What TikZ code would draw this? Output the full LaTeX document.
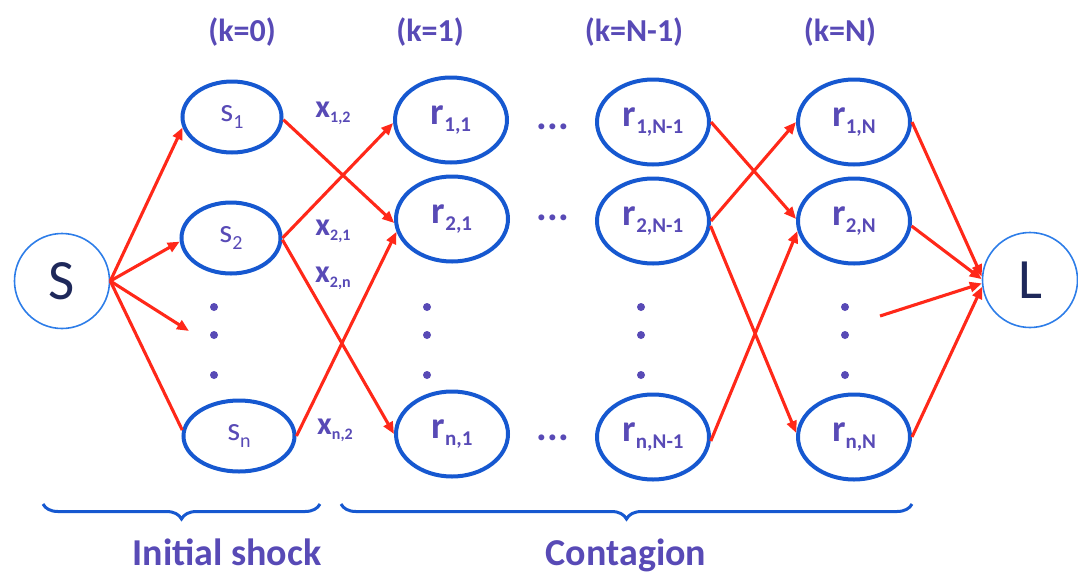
\documentclass[tikz,border=0pt]{standalone}
\usepackage{fontspec}
\setmainfont{Carlito}
\usetikzlibrary{shapes.geometric,arrows.meta,decorations.pathreplacing}
\definecolor{nodeblue}{RGB}{22,88,208}
\definecolor{ringblue}{RGB}{45,125,232}
\definecolor{txtpurple}{RGB}{88,74,182}
\definecolor{navy}{RGB}{30,40,90}
\definecolor{arrowred}{RGB}{255,40,25}
\newcommand{\slab}[1]{s\raisebox{-7pt}{\fontsize{20}{22}\selectfont #1}}
\newcommand{\rlab}[1]{r\raisebox{-7pt}{\fontsize{21}{23}\selectfont #1}}
\newcommand{\xlab}[1]{x\raisebox{-5pt}{\fontsize{16}{18}\selectfont #1}}
\tikzset{
 snode/.style={ellipse,draw=nodeblue,line width=4pt,minimum width=99pt,minimum height=71pt,
   inner sep=0pt,text=txtpurple,font=\fontsize{33}{35}\selectfont},
 rnode/.style={ellipse,draw=nodeblue,line width=4pt,minimum width=112pt,minimum height=85pt,
   inner sep=0pt,text=txtpurple,font=\fontsize{38}{40}\selectfont\bfseries},
 ring/.style={circle,draw=ringblue,line width=1.6pt,minimum size=95pt,
   text=navy,font=\fontsize{57}{60}\selectfont},
 head/.style={text=txtpurple,font=\fontsize{32}{34}\selectfont\bfseries},
 weight/.style={text=txtpurple,font=\fontsize{32}{34}\selectfont\bfseries},
 part/.style={text=txtpurple,font=\fontsize{38}{40}\selectfont\bfseries,anchor=base},
 wire/.style={draw=arrowred,line width=3.1pt},
 link/.style={wire,-{Triangle[length=12pt,width=10pt]}},
 brc/.style={draw=nodeblue,line width=3pt,decorate,decoration={brace,amplitude=15pt,mirror}},
}

\begin{document}
\begin{tikzpicture}[x=1pt,y=-1pt]
        \useasboundingbox (0,0) rectangle (1078,574);

        % source and loss
        \node[ring] (S) at (62,281) {S};
        \node[ring] (L) at (1030,280) {L};

        % column headers
        \node[head] (h0) at (242,32) {(k=0)};
        \node[head] (h1) at (430,32) {(k=1)};
        \node[head] (hM) at (634,32) {(k=N-1)};
        \node[head] (hN) at (840,32) {(k=N)};

        % initial shock column
        \node[snode] (s1) at (232,117) {\slab{1}};
        \node[snode] (s2) at (231,238) {\slab{2}};
        \node[snode,minimum width=111pt] (sn) at (239,436) {\slab{n}};

        % contagion columns
        \node[rnode] (r11) at (451,120) {\rlab{1,1}};
        \node[rnode] (r21) at (452,219) {\rlab{2,1}};
        \node[rnode] (rn1) at (452,434) {\rlab{n,1}};

        \node[rnode] (r1M) at (653,122) {\rlab{1,N-1}};
        \node[rnode] (r2M) at (653,221) {\rlab{2,N-1}};
        \node[rnode] (rnM) at (653,437) {\rlab{n,N-1}};

        \node[rnode] (r1N) at (854,122) {\rlab{1,N}};
        \node[rnode] (r2N) at (854,221) {\rlab{2,N}};
        \node[rnode] (rnN) at (854,437) {\rlab{n,N}};

        % dots
        \node[head,font=\fontsize{40}{42}\selectfont\bfseries] (d1) at (553,127) {...};
        \node[head,font=\fontsize{40}{42}\selectfont\bfseries] (d2) at (553,218) {...};
        \node[head,font=\fontsize{40}{42}\selectfont\bfseries] (dn) at (553,438) {...};
        \foreach \cx in {214,427,641,845}
            \foreach \cy in {307,335,375}
                \fill[txtpurple] (\cx,\cy) circle (4pt);
        \coordinate (sdots) at (189,331);
        \coordinate (Ndots) at (880,316);

        % link weights
        \node[weight] (x12) at (333,113) {\xlab{1,2}};
        \node[weight] (x21) at (333,231) {\xlab{2,1}};
        \node[weight] (x2n) at (333,278) {\xlab{2,n}};
        \node[weight] (xn2) at (335,430) {\xlab{n,2}};

        % shock arrows
        \draw[link] (S.east) -- (s1.192);
        \draw[link] (S.east) -- (s2.184);
        \draw[link] (S.east) -- (sdots);
        \draw[wire] (S.east) -- (sn.174);

        \draw[link] (s1.-3) -- (r21.184);
        \draw[link] (s2.east) -- (r11.183);
        \draw[link] (s2.-2) -- (rn1.west);
        \draw[link] (sn.east) -- (r21.193);

        \draw[link] (r1M.east) -- (r2N.178);
        \draw[link] (r2M.east) -- (r1N.west);
        \draw[link] (r2M.-5) -- (rnN.176);
        \draw[link] (rnM.-4) -- (r2N.190);

        \draw[link] (r1N.east) -- (L.176);
        \draw[link] (r2N.-5) -- (L.179);
        \draw[link] (Ndots) -- (L.184);
        \draw[link] (rnN.east) -- (L.188);

        % braces
        \draw[brc] (43,504) -- (320,504);
        \draw[brc] (341,504) -- (912,504);
        \node[part] (shock) at (227,565) {Initial shock};
        \node[part] (cont) at (626,565) {Contagion};
\end{tikzpicture}
\end{document}
